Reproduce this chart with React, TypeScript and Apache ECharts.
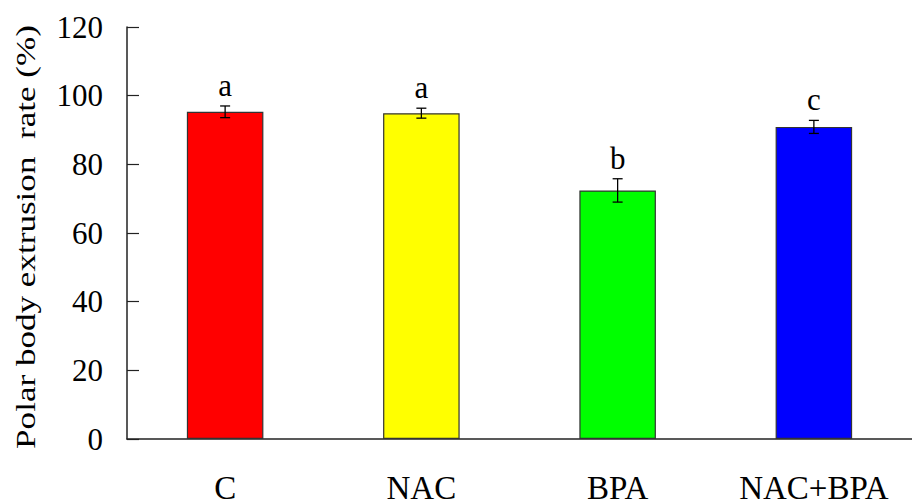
import React, { useEffect, useRef } from "react";
import * as echarts from "echarts";

const categories = ["C", "NAC", "BPA", "NAC+BPA"];
const means = [95.3, 94.9, 72.4, 90.9];
const errors = [1.7, 1.45, 3.4, 1.9];
const letters = ["a", "a", "b", "c"];
const colors = ["#ff0000", "#ffff00", "#00ff00", "#0000ff"];
const yAxisTitle = "Polar body extrusion  rate (%)";

const FONT = "'Liberation Serif', 'Times New Roman', serif";

export default function App() {
  const ref = useRef<HTMLDivElement>(null);
  useEffect(() => {
    if (!ref.current) return;
    const chart = echarts.init(ref.current, undefined, { renderer: "svg" });
    chart.setOption({
      animation: false,
      backgroundColor: "#ffffff",
      grid: { left: 127, top: 27, width: 795, height: 417, containLabel: false },
      graphic: [
        {
          type: "text",
          x: 26,
          y: 237,
          rotation: Math.PI / 2,
          scaleX: 1.3,
          style: {
            text: yAxisTitle,
            fill: "#000",
            font: `27px ${FONT}`,
            align: "center",
            verticalAlign: "middle",
          },
        },
      ],
      xAxis: {
        type: "category",
        data: categories,
        boundaryGap: true,
        axisLine: { lineStyle: { color: "#222", width: 1.5 } },
        axisTick: { inside: true, length: 11, lineStyle: { color: "#222", width: 1.2 } },
        axisLabel: { color: "#000", fontFamily: FONT, fontSize: 33, margin: 32 },
      },
      yAxis: {
        type: "value",
        min: 0,
        max: 120,
        interval: 20,
        axisLine: { show: true, lineStyle: { color: "#222", width: 1.5 } },
        axisTick: { show: true, inside: true, length: 12, lineStyle: { color: "#222", width: 1.2 } },
        axisLabel: { color: "#000", fontFamily: FONT, fontSize: 31, margin: 24 },
        splitLine: { show: false },
      },
      series: [
        {
          type: "bar",
          barWidth: "39%",
          data: means.map((v, i) => ({
            value: v,
            itemStyle: { color: colors[i], borderColor: "#333", borderWidth: 1.2 },
          })),
          z: 2,
        },
        {
          type: "custom",
          data: means.map((v, i) => [i, v, errors[i]]),
          z: 3,
          renderItem: (params: any, api: any) => {
            const x = api.value(0);
            const m = api.value(1);
            const e = api.value(2);
            const i = params.dataIndex;
            const top = api.coord([x, m + e]);
            const bot = api.coord([x, m - e]);
            const cap = 5;
            return {
              type: "group",
              children: [
                { type: "line", shape: { x1: top[0], y1: top[1], x2: bot[0], y2: bot[1] }, style: { stroke: "#000", lineWidth: 1.3 } },
                { type: "line", shape: { x1: top[0] - cap, y1: top[1], x2: top[0] + cap, y2: top[1] }, style: { stroke: "#000", lineWidth: 1.3 } },
                { type: "line", shape: { x1: bot[0] - cap, y1: bot[1], x2: bot[0] + cap, y2: bot[1] }, style: { stroke: "#000", lineWidth: 1.3 } },
                {
                  type: "text",
                  x: top[0],
                  y: top[1] - 5,
                  style: {
                    text: letters[i],
                    fill: "#000",
                    font: `31px ${FONT}`,
                    align: "center",
                    verticalAlign: "bottom",
                  },
                },
              ],
            };
          },
        },
      ],
    });
    return () => chart.dispose();
  }, []);
  return <div ref={ref} style={{ width: 912, height: 504, position: "absolute", left: 0, top: 0 }} />;
}
